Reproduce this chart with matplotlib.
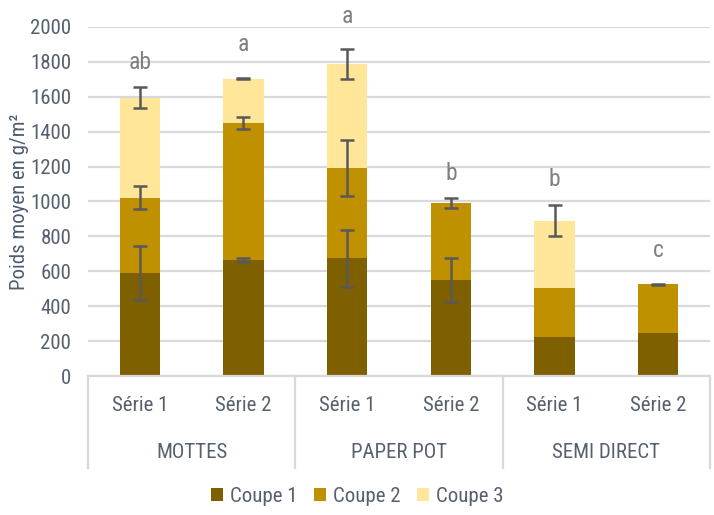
import matplotlib
matplotlib.use("Agg")
import matplotlib.pyplot as plt
from matplotlib import font_manager
import numpy as np

# pick a narrow / condensed face if one is installed
fam, stretch = 'Liberation Sans', 'normal'
cands = [f for f in font_manager.fontManager.ttflist
         if ('Narrow' in f.name or 'Condensed' in f.name or
             str(f.stretch) in ('condensed', 'semi-condensed', 'extra-condensed'))
         and str(f.style) == 'normal' and str(f.weight) in ('normal', '400', 'regular')]
pref = ['Liberation Sans Narrow', 'Roboto Condensed', 'Open Sans Condensed', 'DejaVu Sans']
chosen = None
for p in pref:
    for f in cands:
        if f.name == p:
            chosen = f
            break
    if chosen:
        break
if chosen is None and cands:
    chosen = cands[0]
if chosen is not None:
    fam, stretch = chosen.name, chosen.stretch
plt.rcParams['font.family'] = [fam, 'DejaVu Sans']
plt.rcParams['font.stretch'] = stretch

groups = ["MOTTES", "PAPER POT", "SEMI DIRECT"]
series = ["Série 1", "Série 2"] * 3
coupe1 = [588, 665, 675, 550, 224, 247]
coupe2 = [434, 783, 517, 441, 280, 278]
coupe3 = [573, 255, 597, 0, 386, 0]
err1 = [155, 13, 163, 127, 0, 0]
err2 = [65, 35, 163, 28, 0, 3]
err3 = [60, 3, 86, 0, 88, 0]
letters = ["ab", "a", "a", "b", "b", "c"]
letter_y = [1795, 1898, 2060, 1162, 1127, 719]
legend_labels = ["Coupe 1", "Coupe 2", "Coupe 3"]
colors = ["#7F6000", "#BF9000", "#FFE699"]

txt = "#56606E"
fig = plt.figure(figsize=(7.14, 5.15), dpi=100)
ax = fig.add_axes([88/714, 1-376/515, (710-88)/714, (376-27)/515])
x = np.arange(6)
w = 0.39
c1 = np.array(coupe1); c2 = np.array(coupe2); c3 = np.array(coupe3)
ecol = "#595959"
ax.bar(x, c1, w, color=colors[0], label=legend_labels[0], zorder=2)
ax.bar(x, c2, w, bottom=c1, color=colors[1], label=legend_labels[1], zorder=2)
ax.bar(x, c3, w, bottom=c1+c2, color=colors[2], label=legend_labels[2], zorder=2)
for vals, errs in [(c1, err1), (c1+c2, err2), (c1+c2+c3, err3)]:
    for i in range(6):
        if errs[i] > 0:
            ax.errorbar(x[i], vals[i], yerr=errs[i], fmt='none', ecolor=ecol,
                        elinewidth=1.8, capsize=5, capthick=1.8, zorder=3)
for i in range(6):
    ax.text(x[i], letter_y[i], letters[i], ha='center', va='center',
            fontsize=17, color="#7F7F7F", clip_on=False)

ax.set_xlim(-0.5, 5.5)
ax.set_ylim(0, 2000)
ax.set_yticks(range(0, 2001, 200))
ax.yaxis.grid(True, color="#D9D9D9", linewidth=1.6, zorder=0)
ax.set_axisbelow(True)
for s in ["top", "right", "left"]:
    ax.spines[s].set_visible(False)
ax.spines["bottom"].set_color("#D9D9D9")
ax.spines["bottom"].set_linewidth(1.6)
ax.tick_params(axis='y', length=0, labelsize=15, labelcolor=txt, pad=12)
ax.tick_params(axis='x', length=0)
ax.set_xticks([])
ax.set_ylabel("Poids moyen en g/m²", fontsize=15, color="#4E5B70", va='center')
ax.yaxis.set_label_coords((20 - 88) / 622, 0.5)

# category labels
for i in range(6):
    ax.annotate(series[i], xy=(x[i], 0), xycoords=('data', 'axes fraction'),
                xytext=(0, -21), textcoords='offset points', ha='center', va='center',
                fontsize=15, color=txt)
for g in range(3):
    ax.annotate(groups[g], xy=(2*g+0.5, 0), xycoords=('data', 'axes fraction'),
                xytext=(0, -55), textcoords='offset points', ha='center', va='center',
                fontsize=15, color=txt)
for b in [-0.5, 1.5, 3.5, 5.5]:
    xf = ax.transData.transform((b, 0))[0] / fig.bbox.width
    fig.add_artist(plt.Line2D([xf, xf], [1-376/515, 1-468/515], color="#D9D9D9", linewidth=1.6))

leg = fig.legend(loc='center', bbox_to_anchor=(0.5, 1-496/515), ncol=3, frameon=False,
                 fontsize=15, handlelength=0.6, handleheight=0.6, handletextpad=0.3,
                 columnspacing=0.8)
for t in leg.get_texts():
    t.set_color(txt)

fig.savefig("out.png", dpi=100)
